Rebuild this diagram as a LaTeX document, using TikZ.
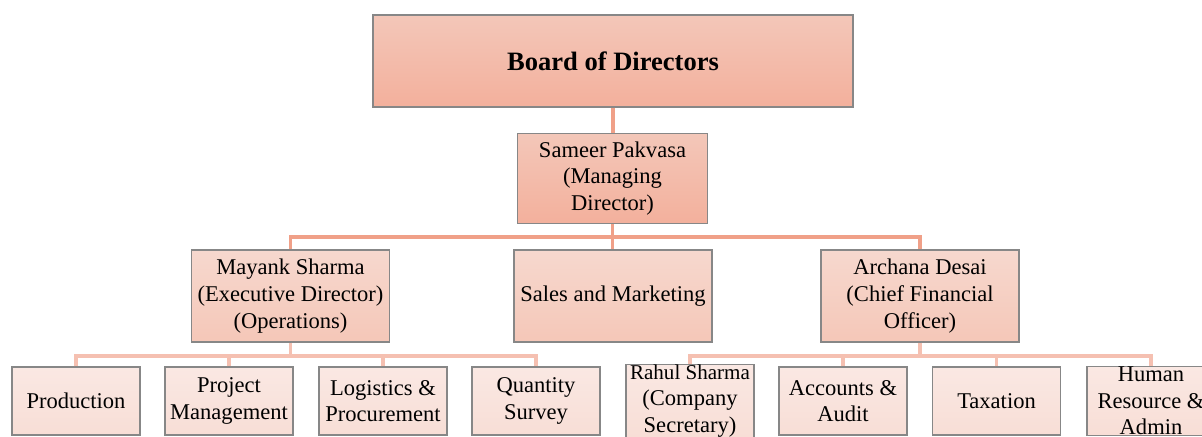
\documentclass[tikz,border=0pt]{standalone}
\usepackage{fontspec}
\setmainfont{Liberation Serif}

\definecolor{cadre}{RGB}{135,135,135}
\definecolor{hautA}{RGB}{243,199,185}
\definecolor{basA}{RGB}{243,176,156}
\definecolor{hautB}{RGB}{246,216,206}
\definecolor{basB}{RGB}{245,199,184}
\definecolor{hautC}{RGB}{250,232,227}
\definecolor{basC}{RGB}{248,222,214}
\definecolor{trait}{RGB}{240,160,136}
\definecolor{traitclair}{RGB}{245,192,177}

\begin{document}
\begin{tikzpicture}[x=0.75pt, y=-0.75pt]
	\tikzset{boite/.style={draw=cadre, line width=0.8pt, align=center, inner sep=0pt, text=black,
			font=\fontsize{16.9}{20}\selectfont},
		niveau0/.style={boite, top color=hautA, bottom color=basA, minimum width=360pt, minimum height=69pt,
			font=\fontsize{19.9}{24}\selectfont\bfseries},
		niveau1/.style={boite, top color=hautA, bottom color=basA, minimum width=143pt, minimum height=68pt},
		niveau2/.style={boite, top color=hautB, bottom color=basB, minimum width=148.5pt, minimum height=69pt},
		niveau3/.style={boite, top color=hautC, bottom color=basC, minimum width=96pt, minimum height=51pt},
		lien/.style={draw=trait, line width=2.4pt},
		lienclair/.style={draw=traitclair, line width=2.4pt}};

	\clip (0,0) rectangle (1202,436);

	\node[niveau0] (board) at (613,61) {Board of Directors};
	\node[niveau1] (sameer) at (612.5,178.5) {Sameer Pakvasa\\(Managing\\Director)};

	\node[niveau2] (mayank) at (290.5,296) {Mayank Sharma\\(Executive Director)\\(Operations)};
	\node[niveau2] (sales) at (613,296) {Sales and Marketing};
	\node[niveau2] (archana) at (920,296) {Archana Desai\\(Chief Financial\\Officer)};

	\foreach \name/\x/\texte in {prod/76/Production, proj/229/{Project\\Management},
			logi/383/{Logistics \&\\Procurement}, qty/536/{Quantity\\Survey},
			rahul/690/{\fontsize{15.8}{25}\selectfont Rahul Sharma\\(Company\\Secretary)},
			acc/843/{Accounts \&\\Audit}, tax/996.5/Taxation,
			hr/1151/{Human\\Resource \&\\Admin}}{
		\node[niveau3] (\name) at (\x,401) {\texte};
	}

	\coordinate (busA) at (613,237);
	\coordinate (busB) at (291,356);
	\coordinate (busC) at (920,356);

	% liens
	\draw[lien] (board.south) -- (board.south |- sameer.north);
	\draw[lien] (sameer.south) -- (sameer.south |- sales.north);
	\draw[lien] (mayank.north) |- (busA) -| (archana.north);

	\draw[lienclair] (mayank.south) -- (mayank.south |- busB);
	\draw[lienclair] (prod.north) |- (busB) -| (qty.north);
	\draw[lienclair] (archana.south) -- (archana.south |- busC);
	\draw[lienclair] (rahul.north) |- (busC) -| (hr.north);
	\foreach \n in {proj, logi, acc, tax}
		\draw[lienclair] (\n.north) -- (\n.north |- busB);

\end{tikzpicture}
\end{document}
